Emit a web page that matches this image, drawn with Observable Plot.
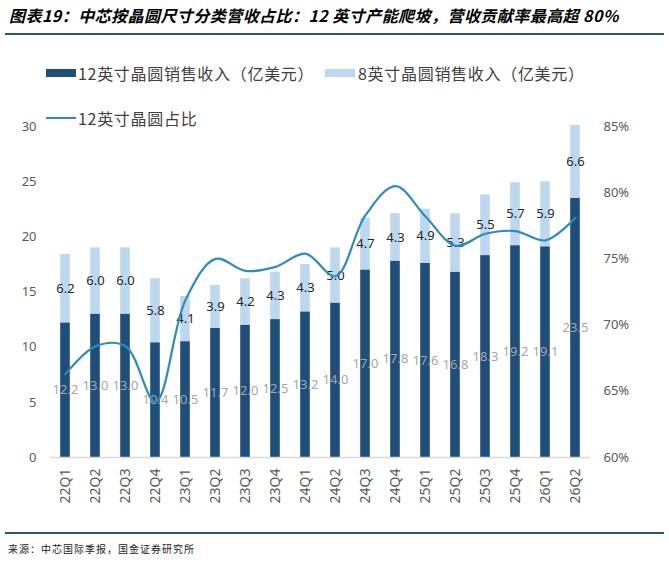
<!DOCTYPE html>
<html><head><meta charset="utf-8">
<script src="https://cdn.jsdelivr.net/npm/d3@7"></script>
<script src="https://cdn.jsdelivr.net/npm/@observablehq/plot@0.6"></script>
<style>
body{margin:0;background:#fff;}
#wrap{position:relative;width:669px;height:563px;overflow:hidden;background:#fff;font-family:"Noto Sans CJK SC","Noto Sans",sans-serif;}
#title{position:absolute;left:9px;top:3px;font-size:16px;font-weight:bold;font-style:italic;color:#000;white-space:nowrap;letter-spacing:0.45px;}
.rule{position:absolute;left:5px;width:659px;height:1.6px;background:#24587A;}
#chart{position:absolute;left:0;top:100px;}
.lg{position:absolute;font-size:16px;color:#404040;white-space:nowrap;line-height:20px;letter-spacing:0.7px;}
.sw{position:absolute;}
#source{position:absolute;left:8px;top:541px;font-size:10px;color:#222;letter-spacing:1px;white-space:nowrap;}
</style></head><body>
<div id="wrap">
  <div id="title">图表19：中芯按晶圆尺寸分类营收占比：12 英寸产能爬坡，营收贡献率最高超 80%</div>
  <div class="rule" style="top:33px"></div>
  <div id="chart"></div>
  <div class="sw" style="left:46px;top:69px;width:30px;height:8px;background:#1F4E79"></div>
  <div class="lg" style="left:78px;top:63px">12英寸晶圆销售收入（亿美元）</div>
  <div class="sw" style="left:325px;top:69px;width:30px;height:8px;background:#BDD7EE"></div>
  <div class="lg" style="left:358px;top:63px">8英寸晶圆销售收入（亿美元）</div>
  <div class="sw" style="left:46px;top:117px;width:30px;height:2px;background:#2E8BC0"></div>
  <div class="lg" style="left:78px;top:108px">12英寸晶圆占比</div>
  <div class="rule" style="top:532px"></div>
  <div id="source">来源：中芯国际季报，国金证券研究所</div>
</div>
<script>
const quarters = ["22Q1","22Q2","22Q3","22Q4","23Q1","23Q2","23Q3","23Q4","24Q1","24Q2","24Q3","24Q4","25Q1","25Q2","25Q3","25Q4","26Q1","26Q2"];
const wafer12 = [12.2,13.0,13.0,10.4,10.5,11.7,12.0,12.5,13.2,14.0,17.0,17.8,17.6,16.8,18.3,19.2,19.1,23.5];
const wafer8 = [6.2,6.0,6.0,5.8,4.1,3.9,4.2,4.3,4.3,5.0,4.7,4.3,4.9,5.3,5.5,5.7,5.9,6.6];
const share12 = [66.3,68.4,68.4,64.2,71.9,75.0,74.1,74.4,75.4,73.7,78.3,80.5,78.2,76.0,76.9,77.1,76.4,78.1];
const leftTicks = [0,5,10,15,20,25,30];
const rightTicks = [60,65,70,75,80,85];

const pctMin = 60, pctMax = 85, yMax = 30;
const toLeft = p => (p - pctMin) * yMax / (pctMax - pctMin);

const rows = quarters.map((q, i) => ({q, a: wafer12[i], b: wafer8[i], top: wafer12[i] + wafer8[i], share: toLeft(share12[i])}));

const font = '"Noto Sans","Noto Sans CJK SC",sans-serif';
const chart = Plot.plot({
  width: 669, height: 430,
  marginLeft: 50, marginRight: 79, marginTop: 26, marginBottom: 73,
  style: {fontFamily: font, background: "transparent"},
  x: {domain: quarters, padding: 0, axis: null, label: null},
  y: {domain: [0, yMax], axis: null, label: null},
  marks: [
    Plot.barY(rows, {x: "q", y1: 0, y2: "a", fill: "#1F4E79", insetLeft: 10.2, insetRight: 10.2}),
    Plot.barY(rows, {x: "q", y1: "a", y2: "top", fill: "#BDD7EE", insetLeft: 10.2, insetRight: 10.2}),
    Plot.ruleY([0], {stroke: "#D9D9D9", strokeWidth: 1.5}),
    Plot.text(rows, {x: "q", y: d => d.a / 2, text: d => d.a.toFixed(1), fill: "#A6A6A6", fontSize: 13}),
    Plot.text(rows, {x: "q", y: d => d.a + d.b / 2, text: d => d.b.toFixed(1), fill: "#262626", fontSize: 13}),
    Plot.line(rows, {x: "q", y: "share", stroke: "#2E8BC0", strokeWidth: 2.2, curve: "catmull-rom"}),
    Plot.axisY(leftTicks, {anchor: "left", tickSize: 0, tickPadding: 14, fontSize: 13, color: "#595959", label: null}),
    Plot.axisY(rightTicks.map(toLeft), {anchor: "right", tickSize: 0, tickPadding: 13, fontSize: 13, color: "#595959", label: null, tickFormat: (d, i) => rightTicks[i] + "%"}),
    Plot.axisX({tickRotate: -90, tickSize: 0, tickPadding: 11, fontSize: 14, color: "#595959", label: null})
  ]
});
document.getElementById("chart").appendChild(chart);
</script>
</body></html>
